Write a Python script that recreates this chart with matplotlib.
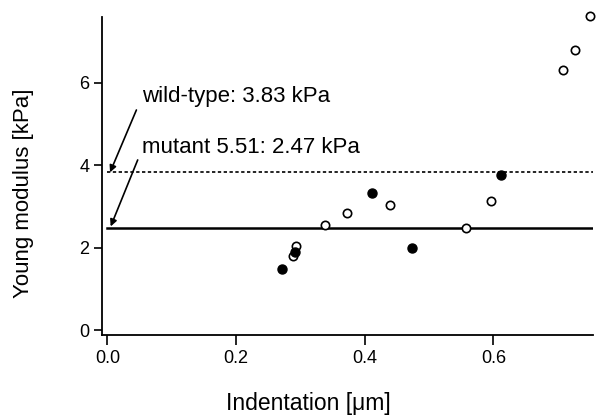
import matplotlib
matplotlib.use("Agg")
import matplotlib.pyplot as plt

# Data
open_x = [0.751, 0.727, 0.709, 0.596, 0.558, 0.440, 0.372, 0.339, 0.293, 0.288]
open_y = [7.61, 6.79, 6.31, 3.14, 2.47, 3.04, 2.85, 2.55, 2.05, 1.80]
filled_x = [0.272, 0.291, 0.411, 0.473, 0.612]
filled_y = [1.50, 1.91, 3.32, 2.00, 3.76]
wt_mean = 3.83
mut_mean = 2.47
wt_label = "wild-type: 3.83 kPa"
mut_label = "mutant 5.51: 2.47 kPa"
xticks = [0.0, 0.2, 0.4, 0.6]
xticklabels = ["0.0", "0.2", "0.4", "0.6"]
yticks = [0, 2, 4, 6]
yticklabels = ["0", "2", "4", "6"]

plt.rcParams['font.family'] = ['Liberation Sans', 'DejaVu Sans']

fig = plt.figure(figsize=(5.96, 4.17), dpi=100)
ax = fig.add_axes([0.1706, 0.1966, 0.995 - 0.1706, 0.959 - 0.1966])

ax.set_xlim(-0.009, 0.755)
ax.set_ylim(-0.11, 7.59)

ax.plot([0, 0.755], [wt_mean, wt_mean], color='black', lw=1.2, ls=(0, (2, 1.5)))
ax.plot([0, 0.755], [mut_mean, mut_mean], color='black', lw=1.8, ls='-')

ax.plot(open_x, open_y, 'o', mfc='white', mec='black', mew=1.2, ms=6, clip_on=False)
ax.plot(filled_x, filled_y, 'o', mfc='black', mec='black', ms=6.5, clip_on=False)

ax.annotate("", xy=(0.004, wt_mean), xytext=(0.045, 5.34),
            arrowprops=dict(arrowstyle='-|>', color='black', lw=1.2,
                            mutation_scale=10, shrinkA=0, shrinkB=0))
ax.annotate("", xy=(0.005, mut_mean + 0.05), xytext=(0.047, 4.13),
            arrowprops=dict(arrowstyle='-|>', color='black', lw=1.2,
                            mutation_scale=10, shrinkA=0, shrinkB=0))
ax.text(0.054, 5.66, wt_label, fontsize=16, va='center', ha='left')
ax.text(0.054, 4.43, mut_label, fontsize=16, va='center', ha='left')

for s in ['top', 'right']:
    ax.spines[s].set_visible(False)
for s in ['left', 'bottom']:
    ax.spines[s].set_linewidth(1.3)

ax.set_xticks(xticks)
ax.set_xticklabels(xticklabels)
ax.set_yticks(yticks)
ax.set_yticklabels(yticklabels)
ax.tick_params(axis='x', direction='out', length=7, width=1.2, labelsize=13, pad=4)
ax.tick_params(axis='y', direction='out', length=6, width=1.2, labelsize=13, pad=3)

ax.set_xlabel("Indentation [μm]", fontsize=16.5)
ax.set_ylabel("Young modulus [kPa]", fontsize=16)
ax.xaxis.set_label_coords(0.42, -0.18)
ax.yaxis.set_label_coords(-0.137, 0.445)

fig.savefig("out.png", dpi=100)
